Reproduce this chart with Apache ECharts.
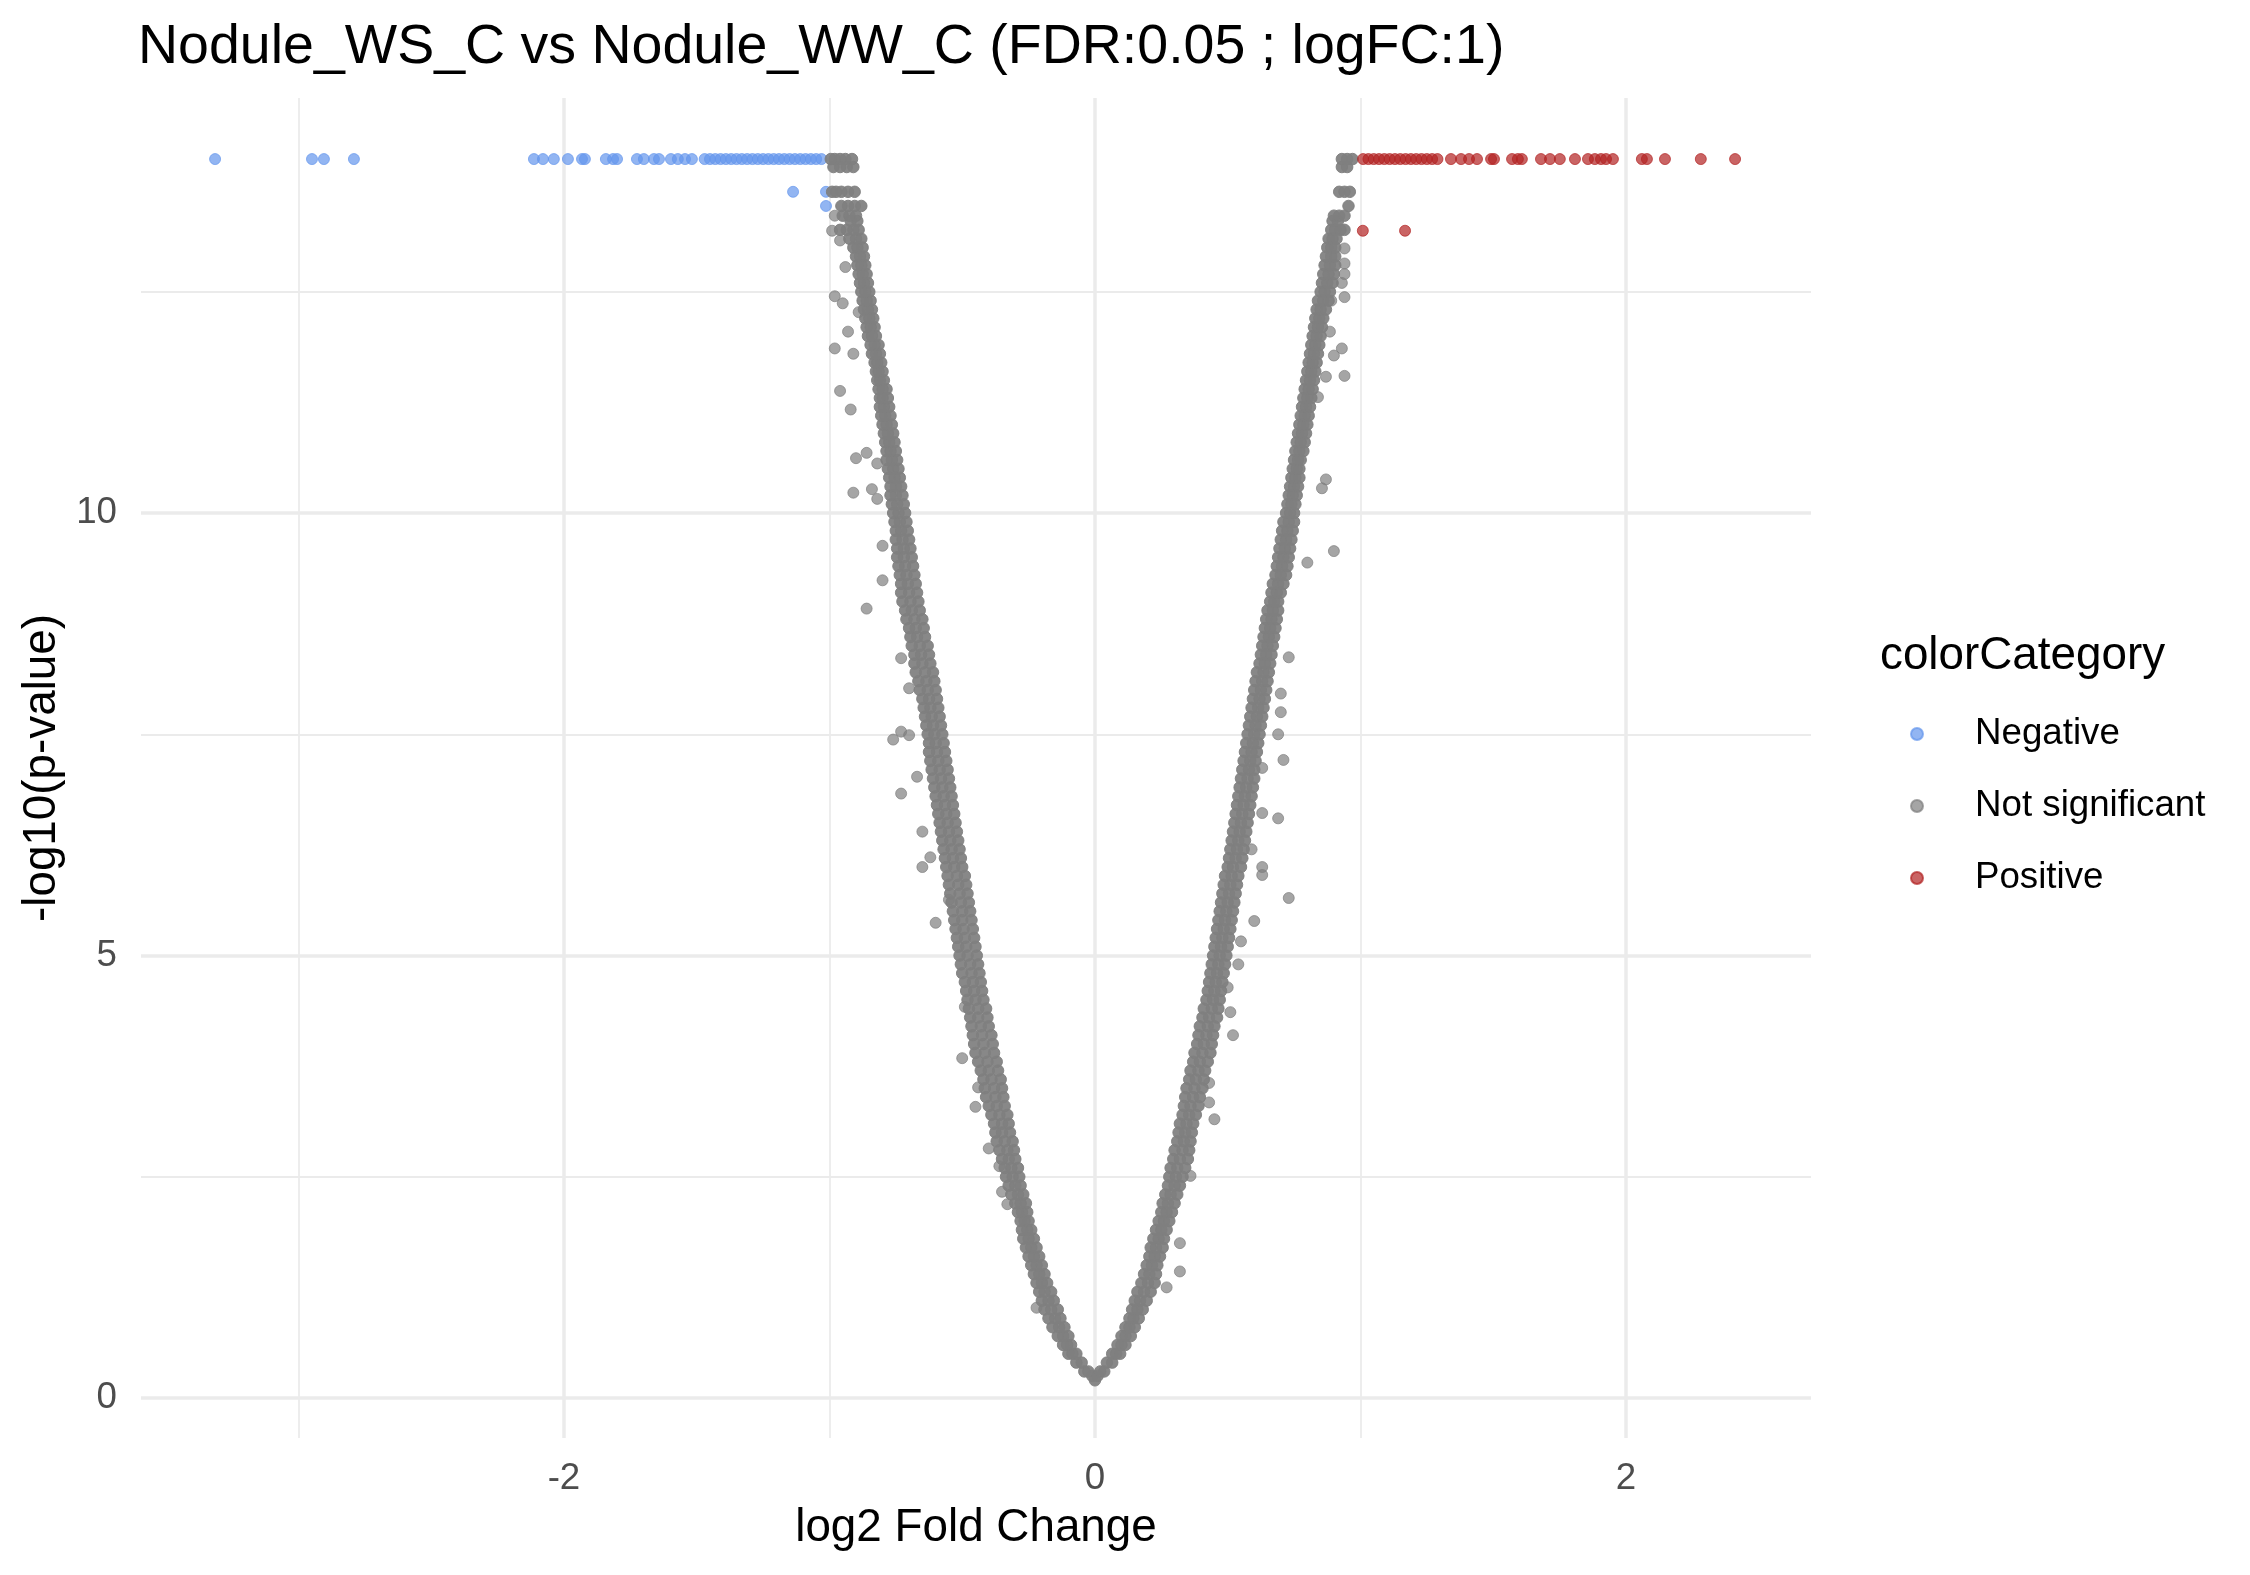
<!DOCTYPE html>
<html>
<head>
<meta charset="utf-8">
<title>Nodule_WS_C vs Nodule_WW_C</title>
<script src="https://cdn.jsdelivr.net/npm/echarts@6.0.0/dist/echarts.min.js"></script>
<style>
  html, body { margin: 0; padding: 0; background: #ffffff; }
  #chart { width: 2250px; height: 1575px; }
</style>
</head>
<body>
<div id="chart"></div>
<script>
'use strict'

/* Chart data */
var categories = ['Negative', 'Not significant', 'Positive'];
var xTickLabels = [-2, 0, 2];
var yTickLabels = [0, 5, 10];
var xMajorGrid = [-2, 0, 2];
var xMinorGrid = [-3, -1, 1];
var yMajorGrid = [0, 5, 10];
var yMinorGrid = [2.5, 7.5, 12.5];

// capped row of -log10(p) at the top
var topRowY = 14.0;

var negTopRowX = [-3.314, -2.949, -2.904, -2.791, -2.113, -2.079, -2.038, -1.985, -1.932, -1.921,
    -1.842, -1.815, -1.800, -1.725, -1.699, -1.661, -1.642, -1.597, -1.571, -1.544, -1.518,
    -1.47, -1.45, -1.43, -1.41, -1.39, -1.37, -1.35, -1.33, -1.31, -1.29, -1.27, -1.25,
    -1.23, -1.21, -1.19, -1.17, -1.15, -1.13, -1.11, -1.09, -1.07, -1.05, -1.03];
var negOtherPoints = [[-1.137, 13.63], [-1.013, 13.63], [-1.013, 13.47]];

var posTopRowX = [1.01, 1.03, 1.05, 1.07, 1.09, 1.11, 1.13, 1.15, 1.17, 1.19, 1.21, 1.23, 1.25,
    1.27, 1.29, 1.341, 1.379, 1.409, 1.439, 1.492, 1.503, 1.571, 1.593, 1.608, 1.680, 1.714,
    1.751, 1.808, 1.857, 1.883, 1.906, 1.925, 1.951, 2.060, 2.079, 2.147, 2.282, 2.411];
var posOtherPoints = [[1.009, 13.19], [1.168, 13.19]];

// not significant genes along the V, rows of [-log10(p), log2FC...]
var leftArmRows = [
    [0.2, 0.0], [0.25, -0.01],
    [0.3, -0.025, -0.04], [0.4, -0.05, -0.07], [0.5, -0.07, -0.085, -0.10], [0.6, -0.09, -0.105, -0.12],
    [0.7, -0.10, -0.12, -0.14], [0.8, -0.115, -0.135, -0.16], [0.9, -0.13, -0.15, -0.175], [1.0, -0.14, -0.165, -0.19],
    [1.1, -0.155, -0.175, -0.20], [1.2, -0.165, -0.19, -0.21], [1.3, -0.18, -0.20, -0.22], [1.4, -0.19, -0.21, -0.23],
    [1.5, -0.20, -0.22, -0.24], [1.6, -0.21, -0.23, -0.25], [1.7, -0.22, -0.24, -0.26], [1.8, -0.23, -0.25, -0.27],
    [1.9, -0.24, -0.255, -0.275], [2.0, -0.25, -0.265, -0.28], [2.1, -0.255, -0.275, -0.29], [2.2, -0.26, -0.28, -0.30],
    [2.3, -0.27, -0.29, -0.315], [2.4, -0.28, -0.30, -0.325], [2.5, -0.285, -0.31, -0.335], [2.6, -0.29, -0.315, -0.34],
    [2.7, -0.30, -0.325, -0.35], [2.8, -0.305, -0.33, -0.36], [2.9, -0.31, -0.34, -0.37], [3.0, -0.32, -0.35, -0.375],
    [3.1, -0.325, -0.35, -0.38], [3.2, -0.33, -0.36, -0.39], [3.3, -0.34, -0.37, -0.40], [3.4, -0.345, -0.375, -0.41],
    [3.5, -0.35, -0.38, -0.415], [3.6, -0.355, -0.39, -0.42], [3.7, -0.365, -0.40, -0.43], [3.8, -0.37, -0.405, -0.44],
    [3.9, -0.38, -0.415, -0.45], [4.0, -0.385, -0.42, -0.455], [4.1, -0.39, -0.425, -0.46], [4.2, -0.40, -0.43, -0.465],
    [4.3, -0.405, -0.44, -0.47], [4.4, -0.41, -0.44, -0.475], [4.5, -0.42, -0.45, -0.48], [4.6, -0.425, -0.455, -0.485],
    [4.7, -0.43, -0.46, -0.49], [4.8, -0.435, -0.465, -0.50], [4.9, -0.44, -0.47, -0.505], [5.0, -0.445, -0.48, -0.51],
    [5.1, -0.45, -0.485, -0.515], [5.2, -0.455, -0.49, -0.52], [5.3, -0.46, -0.495, -0.525], [5.4, -0.465, -0.50, -0.53],
    [5.5, -0.47, -0.50, -0.535], [5.6, -0.475, -0.505, -0.54], [5.7, -0.48, -0.51, -0.545], [5.8, -0.485, -0.515, -0.55],
    [5.9, -0.49, -0.52, -0.555], [6.0, -0.50, -0.53, -0.56], [6.1, -0.505, -0.535, -0.565], [6.2, -0.51, -0.54, -0.57],
    [6.3, -0.515, -0.545, -0.575], [6.4, -0.52, -0.55, -0.58], [6.5, -0.525, -0.555, -0.585], [6.6, -0.53, -0.56, -0.59],
    [6.7, -0.535, -0.565, -0.595], [6.8, -0.54, -0.57, -0.60], [6.9, -0.545, -0.575, -0.605], [7.0, -0.55, -0.58, -0.61],
    [7.1, -0.555, -0.585, -0.615], [7.2, -0.56, -0.59, -0.62], [7.3, -0.565, -0.595, -0.625], [7.4, -0.57, -0.60, -0.625],
    [7.5, -0.575, -0.605, -0.63], [7.6, -0.58, -0.61, -0.635], [7.7, -0.585, -0.615, -0.64], [7.8, -0.59, -0.62, -0.645],
    [7.9, -0.595, -0.625, -0.65], [8.0, -0.60, -0.63, -0.66], [8.1, -0.605, -0.635, -0.665], [8.2, -0.61, -0.64, -0.675],
    [8.3, -0.62, -0.65, -0.68], [8.4, -0.625, -0.655, -0.68], [8.5, -0.63, -0.66, -0.69], [8.6, -0.64, -0.67, -0.695],
    [8.7, -0.645, -0.675, -0.70], [8.8, -0.65, -0.68, -0.71], [8.9, -0.66, -0.69, -0.715], [9.0, -0.665, -0.695, -0.725],
    [9.1, -0.67, -0.70, -0.73], [9.2, -0.675, -0.705, -0.73], [9.3, -0.68, -0.71, -0.735], [9.4, -0.685, -0.715, -0.74],
    [9.5, -0.69, -0.72, -0.745], [9.6, -0.695, -0.72, -0.745], [9.7, -0.70, -0.725, -0.75], [9.8, -0.705, -0.73, -0.75],
    [9.9, -0.71, -0.735, -0.755], [10.0, -0.715, -0.74, -0.76], [10.1, -0.72, -0.745, -0.765], [10.2, -0.725, -0.75, -0.77],
    [10.3, -0.73, -0.75, -0.77], [10.4, -0.735, -0.755, -0.775], [10.5, -0.74, -0.76, -0.78], [10.6, -0.745, -0.765, -0.785],
    [10.7, -0.75, -0.77, -0.785], [10.8, -0.755, -0.775, -0.79], [10.9, -0.76, -0.78, -0.795], [11.0, -0.765, -0.785, -0.80],
    [11.1, -0.77, -0.79, -0.805], [11.2, -0.775, -0.795, -0.81], [11.3, -0.78, -0.80, -0.81], [11.4, -0.785, -0.80, -0.815],
    [11.5, -0.795, -0.81, -0.82], [11.6, -0.80, -0.815, -0.825], [11.7, -0.805, -0.82, -0.83], [11.8, -0.81, -0.825, -0.84],
    [11.9, -0.815, -0.83, -0.845], [12.0, -0.825, -0.84, -0.855], [12.1, -0.83, -0.845, -0.86], [12.2, -0.835, -0.85, -0.865],
    [12.3, -0.84, -0.855, -0.87], [12.4, -0.845, -0.86, -0.875], [12.5, -0.85, -0.865, -0.88], [12.6, -0.855, -0.87, -0.885],
    [12.7, -0.86, -0.875, -0.89], [12.8, -0.865, -0.88, -0.895], [12.9, -0.87, -0.885, -0.90], [13.0, -0.875, -0.895, -0.91],
    [13.1, -0.88, -0.90, -0.925], [13.2, -0.89, -0.91, -0.935, -0.96], [13.3, -0.895, -0.92],
    [13.36, -0.90, -0.925, -0.95], [13.47, -0.88, -0.905, -0.93, -0.955],
    [13.63, -0.905, -0.93, -0.955, -0.975, -0.99], [13.91, -0.91, -0.935, -0.96, -0.985],
    [14.0, -0.915, -0.94, -0.96, -0.98, -0.995]
];

var rightArmRows = [
    [0.25, 0.01],
    [0.3, 0.02, 0.035], [0.4, 0.045, 0.065], [0.5, 0.065, 0.08, 0.095], [0.6, 0.085, 0.10, 0.115],
    [0.7, 0.10, 0.115, 0.135], [0.8, 0.115, 0.13, 0.15], [0.9, 0.13, 0.145, 0.165], [1.0, 0.14, 0.16, 0.18],
    [1.1, 0.15, 0.17, 0.195], [1.2, 0.16, 0.185, 0.21], [1.3, 0.175, 0.20, 0.225], [1.4, 0.185, 0.205, 0.23],
    [1.5, 0.195, 0.215, 0.235], [1.6, 0.205, 0.225, 0.245], [1.7, 0.21, 0.23, 0.255], [1.8, 0.22, 0.24, 0.26],
    [1.9, 0.23, 0.25, 0.27], [2.0, 0.24, 0.26, 0.28], [2.1, 0.25, 0.27, 0.29], [2.2, 0.255, 0.275, 0.30],
    [2.3, 0.265, 0.285, 0.31], [2.4, 0.275, 0.30, 0.32], [2.5, 0.28, 0.305, 0.33], [2.6, 0.285, 0.31, 0.34],
    [2.7, 0.295, 0.32, 0.35], [2.8, 0.30, 0.33, 0.355], [2.9, 0.31, 0.335, 0.36], [3.0, 0.315, 0.34, 0.365],
    [3.1, 0.32, 0.345, 0.37], [3.2, 0.33, 0.355, 0.38], [3.3, 0.335, 0.36, 0.39], [3.4, 0.34, 0.37, 0.395],
    [3.5, 0.345, 0.375, 0.405], [3.6, 0.355, 0.38, 0.41], [3.7, 0.36, 0.39, 0.415], [3.8, 0.37, 0.395, 0.425],
    [3.9, 0.375, 0.405, 0.435], [4.0, 0.385, 0.41, 0.44], [4.1, 0.39, 0.42, 0.445], [4.2, 0.395, 0.425, 0.45],
    [4.3, 0.405, 0.43, 0.46], [4.4, 0.41, 0.44, 0.465], [4.5, 0.42, 0.445, 0.47], [4.6, 0.425, 0.45, 0.475],
    [4.7, 0.43, 0.455, 0.48], [4.8, 0.435, 0.46, 0.485], [4.9, 0.44, 0.465, 0.49], [5.0, 0.445, 0.47, 0.495],
    [5.1, 0.45, 0.475, 0.50], [5.2, 0.455, 0.48, 0.505], [5.3, 0.46, 0.485, 0.51], [5.4, 0.465, 0.49, 0.515],
    [5.5, 0.47, 0.495, 0.52], [5.6, 0.475, 0.50, 0.525], [5.7, 0.48, 0.505, 0.53], [5.8, 0.485, 0.51, 0.535],
    [5.9, 0.49, 0.515, 0.54], [6.0, 0.50, 0.52, 0.55], [6.1, 0.505, 0.53, 0.555], [6.2, 0.51, 0.535, 0.56],
    [6.3, 0.515, 0.54, 0.565], [6.4, 0.52, 0.545, 0.57], [6.5, 0.525, 0.55, 0.575], [6.6, 0.53, 0.555, 0.58],
    [6.7, 0.535, 0.56, 0.585], [6.8, 0.54, 0.565, 0.59], [6.9, 0.545, 0.57, 0.595], [7.0, 0.55, 0.575, 0.60],
    [7.1, 0.555, 0.58, 0.60], [7.2, 0.56, 0.585, 0.605], [7.3, 0.565, 0.59, 0.61], [7.4, 0.57, 0.595, 0.615],
    [7.5, 0.575, 0.60, 0.62], [7.6, 0.58, 0.605, 0.625], [7.7, 0.585, 0.61, 0.63], [7.8, 0.59, 0.615, 0.635],
    [7.9, 0.595, 0.62, 0.64], [8.0, 0.60, 0.625, 0.645], [8.1, 0.605, 0.63, 0.65], [8.2, 0.61, 0.635, 0.655],
    [8.3, 0.62, 0.64, 0.66], [8.4, 0.625, 0.645, 0.665], [8.5, 0.63, 0.65, 0.67], [8.6, 0.635, 0.655, 0.675],
    [8.7, 0.64, 0.66, 0.68], [8.8, 0.645, 0.665, 0.685], [8.9, 0.65, 0.67, 0.69], [9.0, 0.66, 0.675, 0.69],
    [9.1, 0.665, 0.685, 0.70], [9.2, 0.67, 0.69, 0.71], [9.3, 0.68, 0.70, 0.72], [9.4, 0.685, 0.705, 0.725],
    [9.5, 0.69, 0.71, 0.73], [9.6, 0.695, 0.715, 0.735], [9.7, 0.70, 0.72, 0.74], [9.8, 0.705, 0.725, 0.745],
    [9.9, 0.71, 0.73, 0.75], [10.0, 0.72, 0.735, 0.75], [10.1, 0.725, 0.74, 0.755], [10.2, 0.73, 0.745, 0.76],
    [10.3, 0.735, 0.75, 0.765], [10.4, 0.74, 0.755, 0.77], [10.5, 0.745, 0.76, 0.77], [10.6, 0.75, 0.765, 0.775],
    [10.7, 0.755, 0.77, 0.785], [10.8, 0.76, 0.775, 0.79], [10.9, 0.765, 0.78, 0.795], [11.0, 0.77, 0.785, 0.80],
    [11.1, 0.775, 0.79, 0.805], [11.2, 0.78, 0.795, 0.81], [11.3, 0.785, 0.80, 0.815], [11.4, 0.79, 0.805, 0.82],
    [11.5, 0.795, 0.81, 0.825], [11.6, 0.80, 0.815, 0.83], [11.7, 0.805, 0.82, 0.835], [11.8, 0.81, 0.825, 0.84],
    [11.9, 0.815, 0.83, 0.845], [12.0, 0.82, 0.835, 0.85], [12.1, 0.825, 0.84, 0.855], [12.2, 0.83, 0.845, 0.86],
    [12.3, 0.835, 0.85, 0.87], [12.4, 0.84, 0.86, 0.88], [12.5, 0.85, 0.865, 0.885], [12.6, 0.855, 0.875, 0.895],
    [12.7, 0.86, 0.88, 0.90], [12.8, 0.865, 0.885, 0.905], [12.9, 0.87, 0.89, 0.905], [13.0, 0.875, 0.89, 0.905],
    [13.1, 0.88, 0.895, 0.91], [13.2, 0.89, 0.905, 0.925, 0.94], [13.3, 0.895, 0.915],
    [13.36, 0.90, 0.92, 0.94], [13.47, 0.955], [13.63, 0.92, 0.94, 0.96], [13.91, 0.93, 0.95],
    [14.0, 0.93, 0.95, 0.97]
];

// scattered not significant genes off the main band, [log2FC, -log10(p)]
var greyOutliers = [
    [-0.98, 12.45], [-0.95, 12.37], [-0.98, 11.86], [-0.93, 12.05], [-0.91, 11.8], [-0.96, 11.38],
    [-0.92, 11.17], [-0.90, 10.62], [-0.86, 10.68], [-0.82, 10.56], [-0.91, 10.23], [-0.84, 10.27],
    [-0.82, 10.16], [-0.80, 9.63], [-0.80, 9.24], [-0.86, 8.92], [-0.99, 13.19], [-0.98, 13.36],
    [-0.96, 13.08], [-0.94, 12.78], [-0.89, 12.27],
    [-0.73, 8.36], [-0.70, 8.02], [-0.73, 7.53], [-0.76, 7.44], [-0.70, 7.49], [-0.67, 7.02],
    [-0.73, 6.83], [-0.65, 6.40], [-0.62, 6.11], [-0.65, 6.0], [-0.60, 5.37], [-0.55, 5.63],
    [-0.49, 4.42], [-0.50, 3.84], [-0.44, 3.51], [-0.45, 3.29], [-0.40, 2.82], [-0.36, 2.62],
    [-0.35, 2.33], [-0.33, 2.19], [-0.22, 1.02],
    [0.93, 11.86], [0.90, 11.78], [0.94, 11.55], [0.87, 11.54], [0.87, 10.38], [0.855, 10.28],
    [0.90, 9.57], [0.80, 9.44], [0.94, 12.82], [0.94, 12.70], [0.93, 12.6], [0.89, 12.4],
    [0.94, 12.44], [0.94, 12.99], [0.885, 12.05], [0.84, 11.31],
    [0.73, 8.37], [0.70, 7.96], [0.70, 7.75], [0.69, 7.50], [0.71, 7.21], [0.63, 7.12],
    [0.63, 6.61], [0.69, 6.55], [0.59, 6.20], [0.63, 6.0], [0.63, 5.91], [0.73, 5.65],
    [0.60, 5.39], [0.55, 5.16], [0.54, 4.90], [0.51, 4.36], [0.52, 4.10], [0.50, 4.64],
    [0.45, 3.15], [0.43, 3.34], [0.43, 3.56], [0.36, 2.51], [0.32, 1.43], [0.32, 1.75], [0.27, 1.25]
];

/* build point lists */
function rowsToPoints(rows) {
    var pts = [];
    rows.forEach(function (r) {
        for (var i = 1; i < r.length; i++) pts.push([r[i], r[0]]);
    });
    return pts;
}
var negData = negTopRowX.map(function (x) { return [x, topRowY]; }).concat(negOtherPoints);
var posData = posTopRowX.map(function (x) { return [x, topRowY]; }).concat(posOtherPoints);
var nsBandData = rowsToPoints(leftArmRows).concat(rowsToPoints(rightArmRows));

var FONT = 'Liberation Sans, Arial, sans-serif';
var GRID_COLOR = '#EBEBEB';

function gridLines(values, key, width) {
    return values.map(function (v) {
        var d = { lineStyle: { width: width } };
        d[key] = v;
        return d;
    });
}

function pointStyle(color, opacity) {
    return { color: color, opacity: opacity, borderColor: color, borderWidth: 1 };
}

var chart = echarts.init(document.getElementById('chart'), null, { renderer: 'canvas' });

chart.setOption({
    animation: false,
    backgroundColor: '#ffffff',
    title: [{
        text: 'Nodule_WS_C vs Nodule_WW_C (FDR:0.05 ; logFC:1)',
        left: 138, top: 20, padding: 0,
        textStyle: { fontFamily: FONT, fontSize: 55.5, fontWeight: 'normal', color: '#000000', lineHeight: 56 }
    }, {
        text: 'colorCategory',
        left: 1880, top: 633, padding: 0,
        textStyle: { fontFamily: FONT, fontSize: 45.8, fontWeight: 'normal', color: '#000000', lineHeight: 46 }
    }],
    legend: {
        data: categories,
        orient: 'vertical',
        left: 1910, top: 714, padding: 0,
        itemWidth: 12, itemHeight: 12, itemGap: 32,
        icon: 'circle',
        selectedMode: false,
        textStyle: { fontFamily: FONT, fontSize: 36.7, color: '#000000', lineHeight: 40, padding: [0, 0, 0, 47] }
    },
    grid: { left: 141, right: 439, top: 98, bottom: 137, containLabel: false },
    xAxis: {
        type: 'value', min: -3.593, max: 2.697,
        axisLine: { show: false }, axisTick: { show: false }, splitLine: { show: false },
        axisLabel: { customValues: xTickLabels, fontFamily: FONT, fontSize: 36.7, color: '#4D4D4D', margin: 22 },
        name: 'log2 Fold Change', nameLocation: 'middle', nameGap: 67,
        nameTextStyle: { fontFamily: FONT, fontSize: 45.8, color: '#000000' }
    },
    yAxis: {
        type: 'value', min: -0.452, max: 14.69,
        axisLine: { show: false }, axisTick: { show: false }, splitLine: { show: false },
        axisLabel: { customValues: yTickLabels, fontFamily: FONT, fontSize: 36.7, color: '#4D4D4D', margin: 24 },
        name: '-log10(p-value)', nameLocation: 'middle', nameGap: 73,
        nameTextStyle: { fontFamily: FONT, fontSize: 45.8, color: '#000000' }
    },
    series: [{
        name: 'Negative', type: 'scatter', z: 10,
        symbol: 'circle', symbolSize: 11,
        itemStyle: pointStyle('#6495ED', 0.7),
        data: negData
    }, {
        name: 'Not significant', type: 'scatter', z: 10,
        symbol: 'circle', symbolSize: 11,
        itemStyle: pointStyle('#7F7F7F', 0.7),
        data: greyOutliers,
        markLine: {
            silent: true, symbol: ['none', 'none'],
            label: { show: false },
            lineStyle: { color: GRID_COLOR, type: 'solid' },
            emphasis: { disabled: true },
            data: gridLines(xMinorGrid, 'xAxis', 1.8)
                .concat(gridLines(yMinorGrid, 'yAxis', 1.8))
                .concat(gridLines(xMajorGrid, 'xAxis', 3.5))
                .concat(gridLines(yMajorGrid, 'yAxis', 3.5))
        }
    }, {
        // the dense V of many overlapping genes
        name: 'Not significant', type: 'scatter', z: 10,
        symbol: 'circle', symbolSize: 11.5,
        itemStyle: pointStyle('#7F7F7F', 0.93),
        data: nsBandData
    }, {
        name: 'Positive', type: 'scatter', z: 10,
        symbol: 'circle', symbolSize: 11,
        itemStyle: pointStyle('#B22222', 0.7),
        data: posData
    }]
});
</script>
</body>
</html>
